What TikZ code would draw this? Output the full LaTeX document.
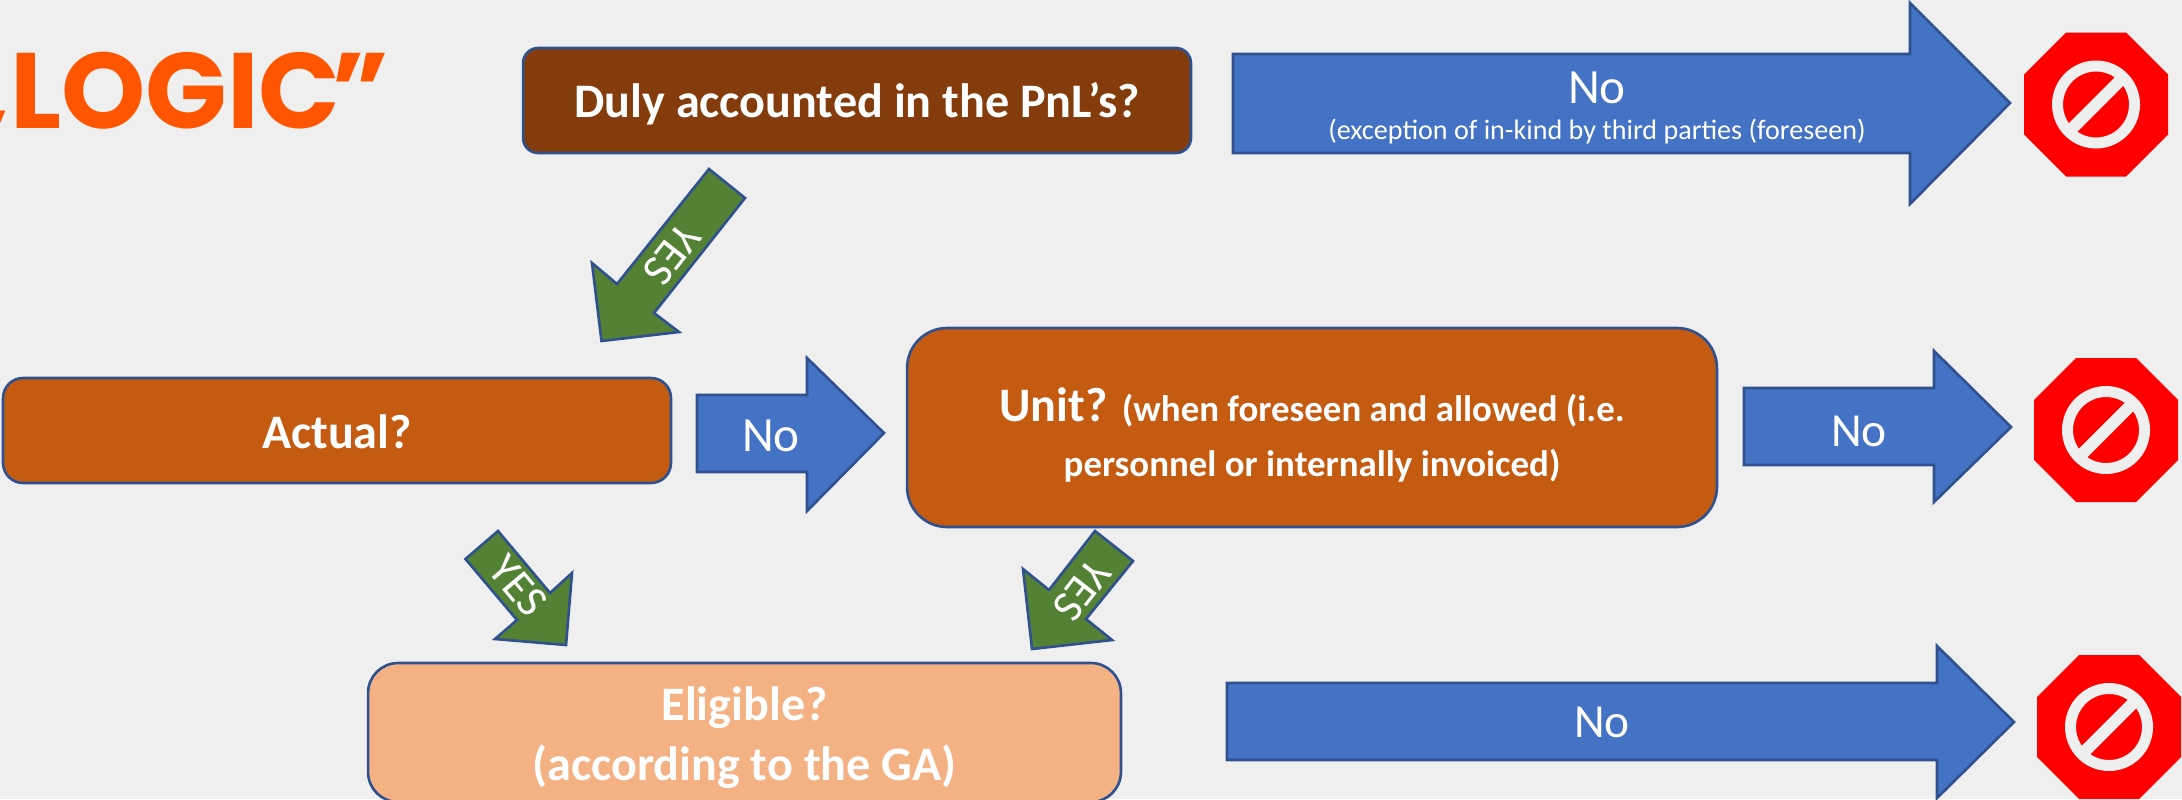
\documentclass[tikz,border=0pt]{standalone}
\usepackage{fontspec}
\setmainfont{Carlito}
\newfontfamily\titlefont{Poppins}
\definecolor{bgc}{HTML}{EFEFEF}
\definecolor{brownc}{HTML}{843C0C}
\definecolor{orangec}{HTML}{C55A11}
\definecolor{peachc}{HTML}{F4B183}
\definecolor{bluec}{HTML}{4472C4}
\definecolor{edgec}{HTML}{2F528F}
\definecolor{greenc}{HTML}{548235}
\definecolor{redc}{HTML}{FF0000}
\definecolor{titlec}{HTML}{FF5500}
\tikzset{
  boxnode/.style={draw=edgec,line width=1.5pt,outer sep=0pt,inner sep=0pt},
  boxtext/.style={text=white,align=center,inner sep=0pt,font=\bfseries\fontsize{27.4}{31.6}\selectfont},
  bluearrow/.style={draw=edgec,fill=bluec,line width=1.5pt,miter limit=10},
  greenarrow/.style={draw=edgec,fill=greenc,line width=1.5pt,miter limit=10},
  arrowtext/.style={text=white,align=center,inner sep=0pt},
  yestext/.style={text=white,inner sep=0pt,font=\fontsize{25.5}{25.5}\selectfont},
  titletext/.style={anchor=base east,text=titlec,inner sep=0pt,font=\titlefont\bfseries\fontsize{61}{61}\selectfont},
  stopsign/.pic={
    \fill[redc] (-72,-30) -- (-30,-72) -- (30,-72) -- (72,-30) -- (72,30) -- (30,72) -- (-30,72) -- (-72,30) -- cycle;
    \draw[bgc,line width=0.22cm] (0,0) circle (38.5);
    \draw[bgc,line width=0.24cm] (-28,28) -- (28,-28);
  }
}
\begin{document}
\begin{tikzpicture}[x=0.02cm,y=-0.02cm]
\useasboundingbox (0,0) rectangle (2182,799);
\clip (0,0) rectangle (2182,799);
\fill[bgc] (0,0) rectangle (2182,799);
% title
\node[titletext] (title) at (341,128) {„LOGIC};
\node[titletext] (titleq) at (390,128) {”};
% boxes
\node[boxnode,fill=brownc,rounded corners=0.3cm,minimum width=13.36cm,minimum height=2.1cm] (duly) at (857,100.5) {};
\node[boxtext] (dulyt) at (857,104) {Duly accounted in the PnL’s?};
\node[boxnode,fill=orangec,rounded corners=0.4cm,minimum width=13.36cm,minimum height=2.1cm] (actual) at (337,430.5) {};
\node[boxtext] (actualt) at (337,432) {Actual?};
\node[boxnode,fill=orangec,rounded corners=0.8cm,minimum width=16.2cm,minimum height=3.98cm] (unit) at (1312,427.5) {};
\node[boxtext] (unitt) at (1312,435) {Unit? \fontsize{21}{31.6}\selectfont(when foreseen and allowed (i.e.\\\fontsize{21}{31.6}\selectfont personnel or internally invoiced)};
\node[boxnode,fill=peachc,rounded corners=0.6cm,minimum width=15.06cm,minimum height=2.78cm] (elig) at (744.5,732.5) {};
\node[boxtext,font=\bfseries\fontsize{27.4}{34}\selectfont] (eligt) at (744.5,738) {Eligible?\\(according to the GA)};
% blue arrows
\draw[bluearrow] (1233,54) -- (1910,54) -- (1910,3) -- (2010,103) -- (1910,204) -- (1910,153) -- (1233,153) -- cycle;
\node[arrowtext,font=\fontsize{28}{28}\selectfont] (no1) at (1597,88) {No};
\node[arrowtext,font=\fontsize{16}{20}\selectfont] (no1b) at (1597,131) {(exception of in-kind by third parties (foreseen)};
\draw[bluearrow] (697,395) -- (807,395) -- (807,358) -- (884,433) -- (807,511) -- (807,472) -- (697,472) -- cycle;
\node[arrowtext,font=\fontsize{28}{28}\selectfont] (no2) at (771,436) {No};
\draw[bluearrow] (1744,388) -- (1934,388) -- (1934,351) -- (2011,427) -- (1934,502) -- (1934,465) -- (1744,465) -- cycle;
\node[arrowtext,font=\fontsize{27}{27}\selectfont] (no3) at (1859,431) {No};
\draw[bluearrow] (1227,683) -- (1937,683) -- (1937,646) -- (2014,722) -- (1937,798) -- (1937,760) -- (1227,760) -- cycle;
\node[arrowtext,font=\fontsize{27}{27}\selectfont] (no4) at (1602,722) {No};
% green arrows
\draw[greenarrow] (709,169) -- (745,198) -- (654,313) -- (679,332) -- (601.5,341) -- (592,263) -- (617,284) -- cycle;
\node[yestext,rotate=-128] (yes1) at (672,254.5) {YES};
\draw[greenarrow] (498,531) -- (465.5,559) -- (517,620) -- (495,639) -- (566,645) -- (572,573) -- (550,593) -- cycle;
\node[yestext,rotate=-50] (yes2) at (518,586) {YES};
\draw[greenarrow] (1095,531) -- (1133,561) -- (1086,619) -- (1112,640) -- (1032,649) -- (1023,569) -- (1049,590) -- cycle;
\node[yestext,rotate=-128] (yes3) at (1082,590) {YES};
% stop signs
\pic at (2096,104.5) {stopsign};
\pic at (2106,430) {stopsign};
\pic at (2109,727) {stopsign};
\end{tikzpicture}
\end{document}
